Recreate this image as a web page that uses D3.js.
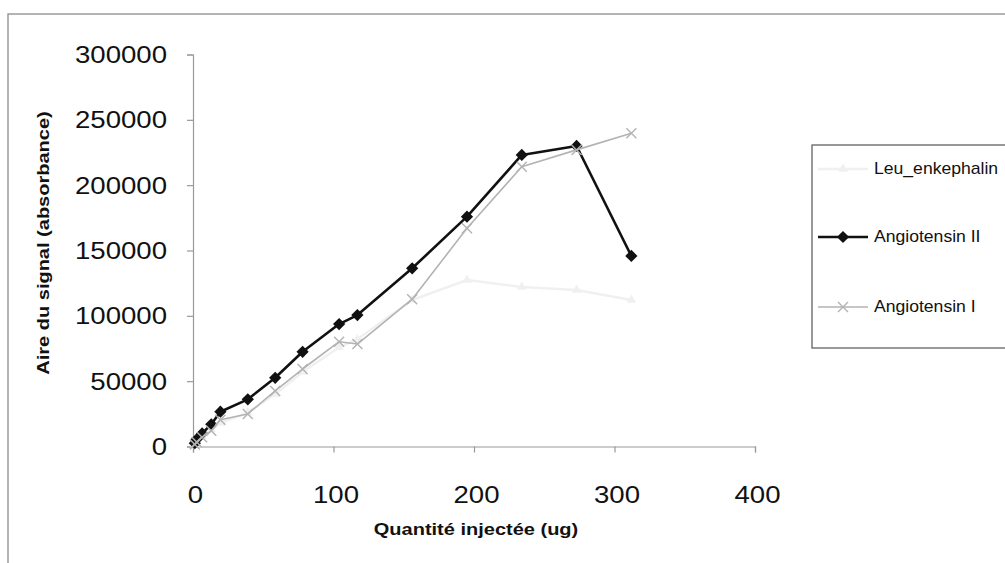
<!DOCTYPE html>
<html>
<head>
<meta charset="utf-8">
<script src="https://cdn.jsdelivr.net/npm/d3@7"></script>
<style>
  html, body { margin: 0; padding: 0; background: #fff; }
  svg { display: block; font-family: "Liberation Sans", Arial, sans-serif; }
</style>
</head>
<body>
<svg id="chart" width="1005" height="563"></svg>
<script>
// ---- data ----
const quantities = [1.3, 2.6, 6.5, 13, 19.5, 39, 58.5, 78, 104, 117, 156, 195, 234, 273, 312];
const leuEnkephalin = [2000, 4000, 8000, 13000, 18000, 26000, 40000, 57000, 76000, 82000, 112100, 127400, 122000, 119800, 112100];
const angiotensinII = [2500, 5500, 10000, 17000, 26600, 36100, 52600, 72500, 93700, 100600, 136400, 175900, 223100, 230000, 145800];
const angiotensinI = [1500, 3500, 7000, 12000, 20500, 24900, 42500, 59300, 80200, 78400, 112700, 167000, 214100, 227000, 239700];
const seriesNames = ["Leu_enkephalin", "Angiotensin II", "Angiotensin I"];
const xTicks = [0, 100, 200, 300, 400];
const yTicks = [0, 50000, 100000, 150000, 200000, 250000, 300000];
const xTitle = "Quantité injectée (ug)";
const yTitle = "Aire du signal (absorbance)";

const SX = 1.2; // horizontal text stretch of the scanned original

const svg = d3.select("#chart");

// outer frame
svg.append("path")
  .attr("d", "M8,563 L8,14 L1005,14")
  .attr("fill", "none").attr("stroke", "#9a9a9a").attr("stroke-width", 1.5);

const x = d3.scaleLinear().domain([0, 400]).range([193, 755]);
const y = d3.scaleLinear().domain([0, 300000]).range([446.5, 54.5]);

// y axis
const gy = svg.append("g").attr("transform", "translate(193,0)")
  .call(d3.axisLeft(y).tickValues(yTicks).tickSize(6).tickPadding(0).tickFormat(d3.format("d")));
gy.select(".domain").attr("stroke", "#999").attr("stroke-width", 1.2);
gy.selectAll(".tick line").attr("stroke", "#999").attr("stroke-width", 1.2);
gy.selectAll(".tick text")
  .attr("x", null).attr("dy", null)
  .attr("transform", `translate(-26,0) scale(${SX},1)`)
  .attr("dominant-baseline", "central")
  .attr("font-size", 23).attr("fill", "#111")
  .attr("font-family", "'Liberation Sans', Arial, sans-serif");

// x axis
const gx = svg.append("g").attr("transform", "translate(0,446.5)")
  .call(d3.axisBottom(x).tickValues(xTicks).tickSize(6).tickPadding(0).tickFormat(d3.format("d")));
gx.select(".domain").attr("stroke", "#999").attr("stroke-width", 1.2);
gx.selectAll(".tick line").attr("stroke", "#999").attr("stroke-width", 1.2);
gx.selectAll(".tick text")
  .attr("y", null).attr("dy", null)
  .attr("transform", `translate(2,48) scale(${SX},1)`)
  .attr("text-anchor", "middle")
  .attr("dominant-baseline", "central")
  .attr("font-size", 23).attr("fill", "#111")
  .attr("font-family", "'Liberation Sans', Arial, sans-serif");

// axis titles
svg.append("text")
  .attr("transform", `translate(476,530) scale(1.25,1)`)
  .attr("text-anchor", "middle")
  .attr("dominant-baseline", "central")
  .attr("font-size", 16).attr("font-weight", "bold").attr("fill", "#111")
  .text(xTitle);
svg.append("text")
  .attr("transform", `translate(44,243) rotate(-90) scale(1.25,1)`)
  .attr("text-anchor", "middle")
  .attr("dominant-baseline", "central")
  .attr("font-size", 16).attr("font-weight", "bold").attr("fill", "#111")
  .text(yTitle);

// series
const styles = [
  { values: leuEnkephalin, color: "#f0f0f0", width: 2.5, marker: "tri" },
  { values: angiotensinII, color: "#111", width: 2.6, marker: "diamond" },
  { values: angiotensinI, color: "#b3b3b3", width: 1.6, marker: "x" }
];

const line = d3.line().x(d => x(d[0])).y(d => y(d[1]));

function drawMarker(g, kind, color, cx, cy) {
  if (kind === "diamond") {
    g.append("path").attr("d", d3.symbol(d3.symbolSquare, 75)())
      .attr("transform", `translate(${cx},${cy}) rotate(45)`)
      .attr("fill", color);
  } else if (kind === "x") {
    const r = 5;
    g.append("path").attr("d", `M${cx - r},${cy - r}L${cx + r},${cy + r}M${cx - r},${cy + r}L${cx + r},${cy - r}`)
      .attr("stroke", color).attr("stroke-width", 1.4).attr("fill", "none");
  } else {
    g.append("path").attr("d", d3.symbol(d3.symbolTriangle, 40)())
      .attr("transform", `translate(${cx},${cy})`)
      .attr("fill", color);
  }
}

styles.forEach(s => {
  const pts = quantities.map((q, i) => [q, s.values[i]]);
  const g = svg.append("g");
  g.append("path").datum(pts).attr("d", line)
    .attr("fill", "none").attr("stroke", s.color).attr("stroke-width", s.width)
    .attr("stroke-linejoin", "round");
  pts.forEach(p => drawMarker(g, s.marker, s.color, x(p[0]), y(p[1])));
});

// legend
const lg = svg.append("g");
lg.append("rect").attr("x", 812).attr("y", 145).attr("width", 210).attr("height", 203)
  .attr("fill", "#fff").attr("stroke", "#555").attr("stroke-width", 1.2);
const legendY = [169, 237, 307];
seriesNames.forEach((name, i) => {
  const s = styles[i];
  lg.append("line").attr("x1", 818).attr("x2", 868).attr("y1", legendY[i]).attr("y2", legendY[i])
    .attr("stroke", s.color).attr("stroke-width", s.width);
  drawMarker(lg, s.marker, s.color, 843, legendY[i]);
  lg.append("text")
    .attr("transform", `translate(874,${legendY[i]}) scale(1.1,1)`)
    .attr("dominant-baseline", "central")
    .attr("font-size", 16).attr("fill", "#111")
    .text(name);
});
</script>
</body>
</html>
